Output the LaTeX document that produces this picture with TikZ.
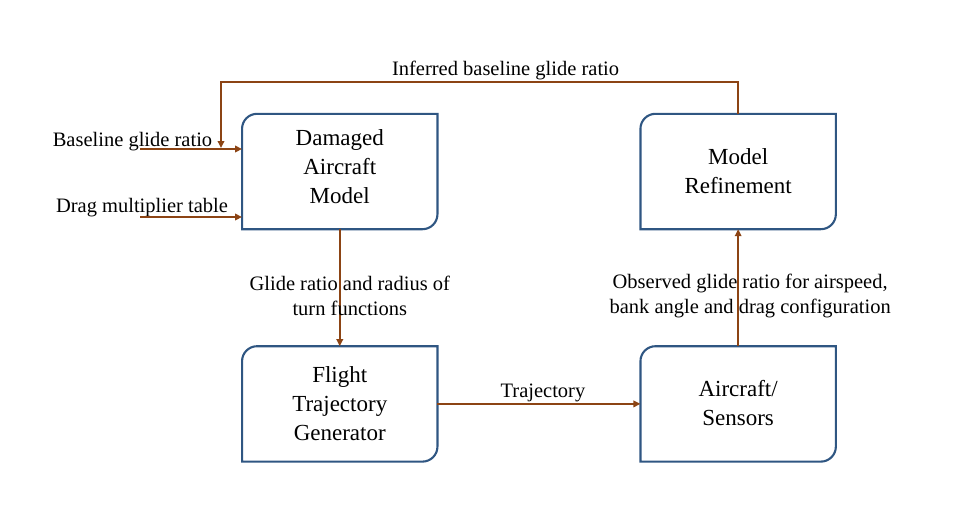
\documentclass[tikz,border=0pt]{standalone}
\usepackage{fontspec}
\setmainfont{Liberation Serif}
\usetikzlibrary{arrows.meta, positioning}
\definecolor{boxblue}{RGB}{47,86,130}
\definecolor{linkbrown}{RGB}{140,68,20}

\begin{document}
\begin{tikzpicture}[
  x=1pt, y=1pt,
  node distance=117pt and 203pt,
  p/.style={rectangle, minimum width=195pt, minimum height=115pt, align=center, inner sep=2pt, font=\fontsize{23}{29}\selectfont},
  lbl/.style={align=center, font=\fontsize{20.5}{25}\selectfont},
  arr/.style={-{Triangle[length=7pt, width=6.5pt]}, draw=linkbrown, line width=2pt},
  boxline/.style={draw=boxblue, line width=2.1pt}
]
\useasboundingbox (0,0) rectangle (957,-515);
\node[p, text depth=10pt] (dam) at (339.75,-171.5) {Damaged\\Aircraft\\Model};
\node[p, right=of dam] (ref) {Model\\Refinement};
\node[p, below=of dam] (ftg) {Flight\\Trajectory\\Generator};
\node[p, below=of ref, text depth=3pt] (acs) {Aircraft/\\Sensors};
% box outlines: rounded top left and bottom right
\foreach \n in {dam, ref, ftg, acs}
  \draw[boxline] ([yshift=-15pt]\n.north west) arc[start angle=180, end angle=90, radius=15pt]
    -- (\n.north east) -- ([yshift=15pt]\n.south east) arc[start angle=0, end angle=-90, radius=15pt]
    -- (\n.south west) -- cycle;
\coordinate (bgr) at (140,-149);
\coordinate (dmt) at (140,-217);
\coordinate (fbend) at (221,-148);
\node[lbl] (bgrlab) at (132.5,-142) {Baseline glide ratio};
\node[lbl] (dmtlab) at (142,-208) {Drag multiplier table};
\draw[arr] (bgr) -- (bgr -| dam.west);
\draw[arr] (dmt) -- (dmt -| dam.west);
\draw[arr] (ref.north) -- ++(0,32) -| node[lbl, pos=0.25, above, xshift=26pt, yshift=-2pt]{Inferred baseline glide ratio} (fbend);
\draw[arr] (dam.south) -- node[lbl, pos=0.57, xshift=10pt]{Glide ratio and radius of\\turn functions} (ftg.north);
\draw[arr] (ftg.east) -- node[lbl, above, xshift=4pt, yshift=-2pt]{Trajectory} (acs.west);
\draw[arr] (acs.north) -- node[lbl, pos=0.43, xshift=12pt]{Observed glide ratio for airspeed,\\bank angle and drag configuration} (ref.south);
\end{tikzpicture}
\end{document}
